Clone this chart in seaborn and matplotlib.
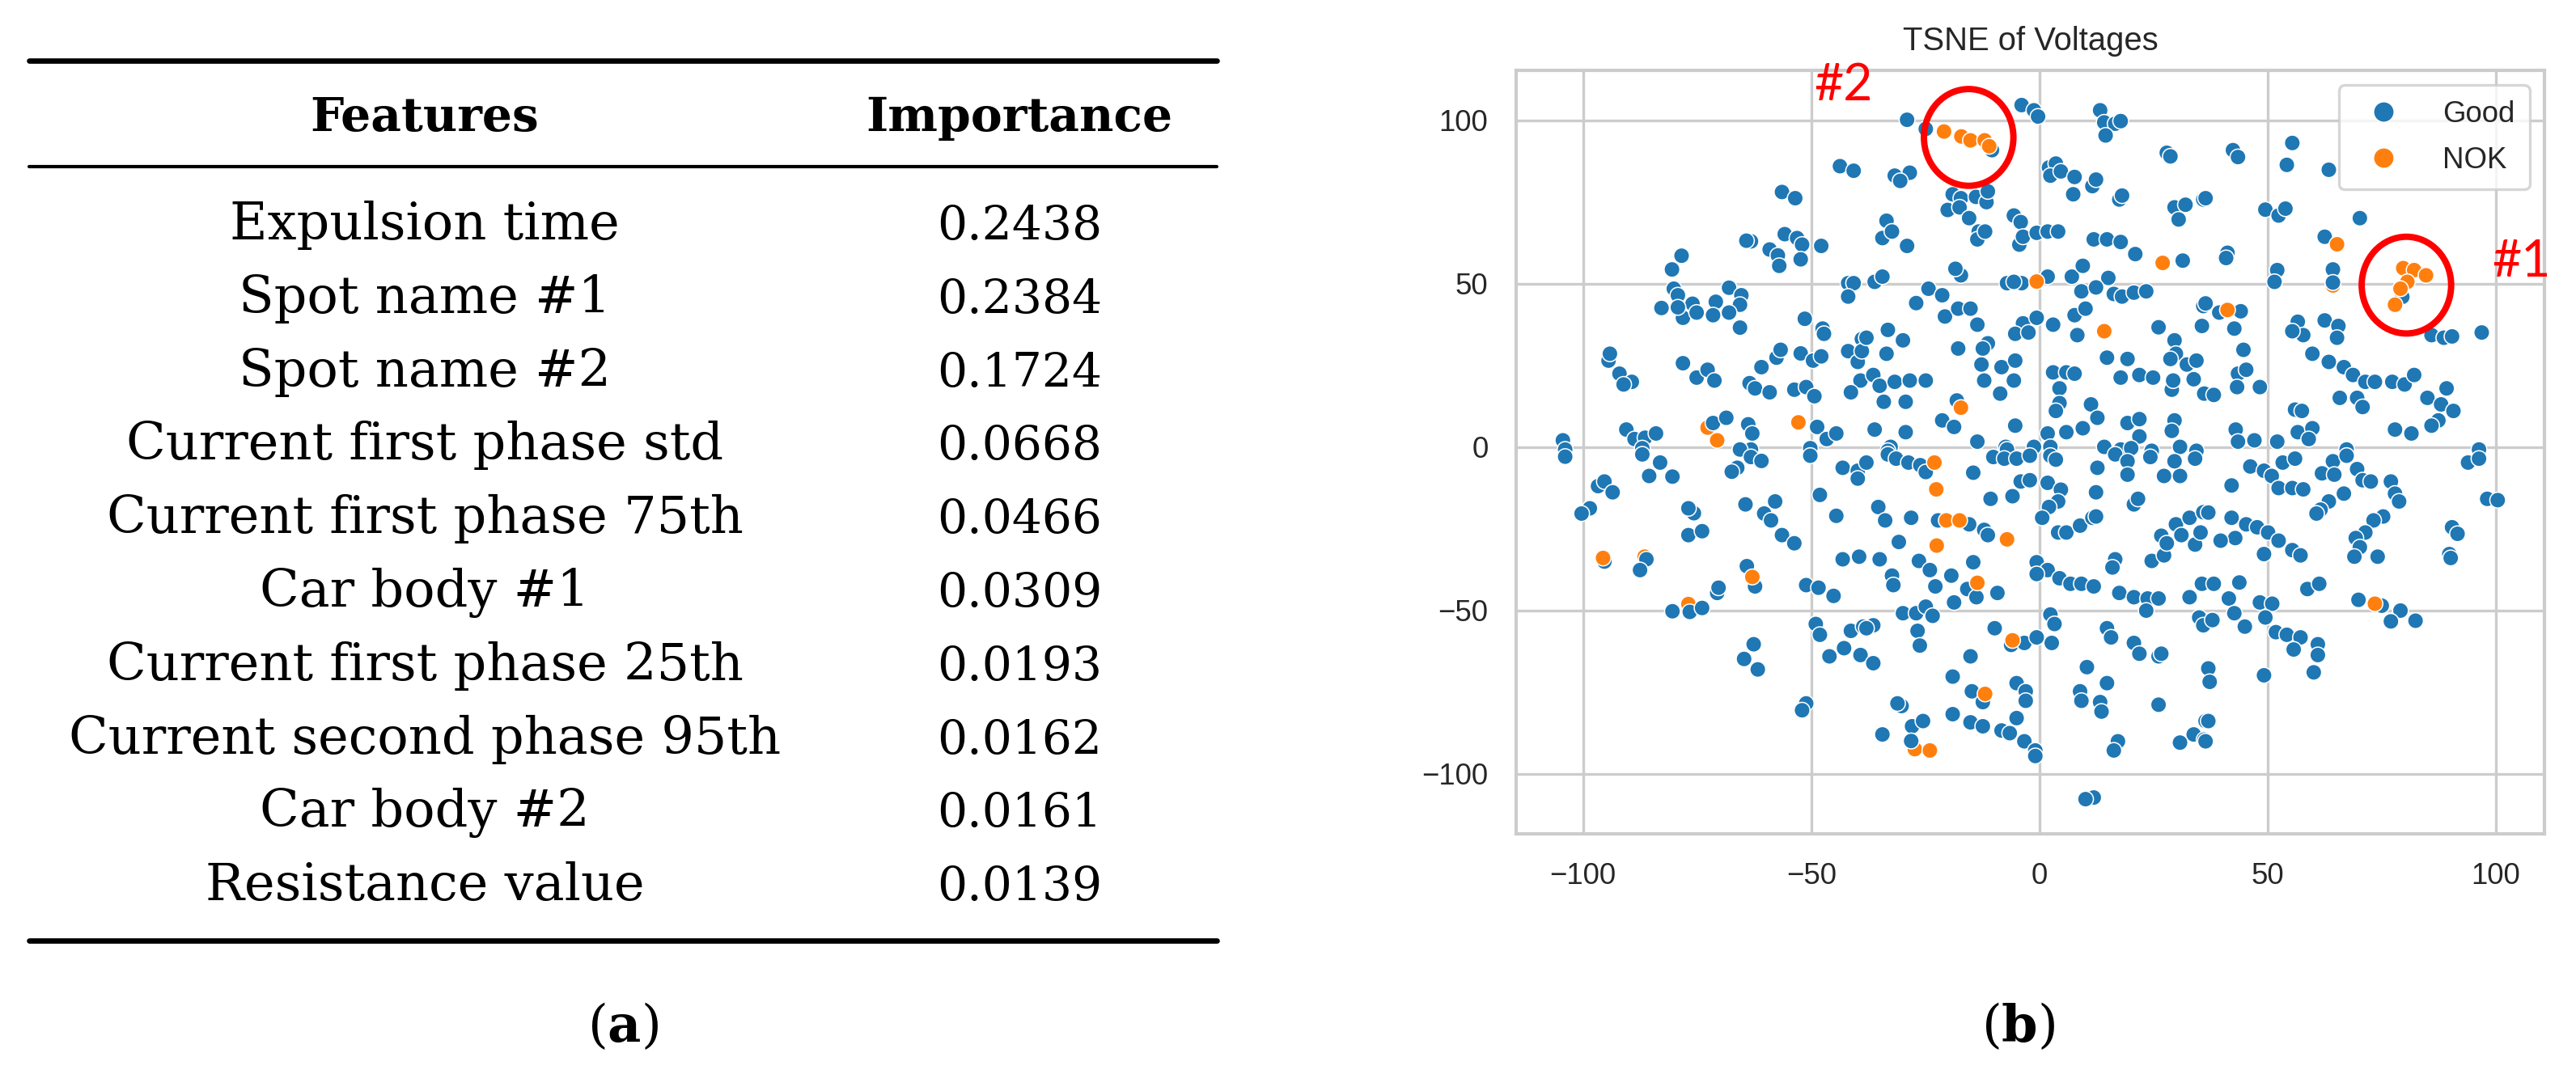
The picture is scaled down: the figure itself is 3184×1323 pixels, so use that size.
import numpy as np
import pandas as pd
import matplotlib
matplotlib.use("Agg")
import matplotlib.pyplot as plt
import seaborn as sns
from matplotlib.patches import Ellipse
from matplotlib.lines import Line2D

# ---------------- table data ----------------
features = ["Expulsion time", "Spot name #1", "Spot name #2", "Current first phase std",
            "Current first phase 75th", "Car body #1", "Current first phase 25th",
            "Current second phase 95th", "Car body #2", "Resistance value"]
importance = ["0.2438", "0.2384", "0.1724", "0.0668", "0.0466", "0.0309",
              "0.0193", "0.0162", "0.0161", "0.0139"]
headers = ["Features", "Importance"]

# ---------------- scatter data ----------------
good_pts = [
    (-43.7,86.0),(-40.7,84.6),(-56.4,78.1),(-53.5,76.2),(-63.2,63.0),(-64.2,63.2),(-55.8,65.2),(-53.1,64.0),
    (-52.0,62.0),(-47.8,61.6),(-59.1,60.5),(-57.3,58.7),(-57.0,55.5),(-52.3,57.5),(-78.4,58.6),(-80.5,54.4),
    (-41.9,50.2),(-40.7,50.2),(-41.9,46.1),(-80.1,48.5),(-79.2,46.5),(-82.8,42.6),(-76.0,43.9),(-78.1,39.6),
    (-75.1,41.2),(-79.2,42.8),(-70.9,44.5),(-71.5,40.4),(-68.0,48.8),(-65.3,46.5),(-65.6,43.6),(-68.0,41.2),
    (-65.6,36.6),(-51.4,39.3),(-47.5,36.3),(-47.2,34.7),(-38.9,33.1),(-94.4,26.5),(-94.1,28.6),(-92.0,22.5),
    (-89.3,20.0),(-91.1,19.2),(-78.1,25.7),(-75.1,21.3),(-72.7,23.7),(-71.2,20.4),(-57.6,27.4),(-56.7,29.8),
    (-60.9,24.5),(-63.5,19.6),(-62.3,18.0),(-59.1,16.8),(-52.3,28.7),(-49.6,26.5),(-47.8,27.8),(-53.7,17.6),
    (-51.1,18.4),(-49.3,15.6),(-41.9,29.4),(-39.8,26.1),(-39.2,20.4),(-41.3,16.8),(-38.9,29.4),(-71.5,7.4),
    (-68.6,9.0),(-63.8,7.0),(-62.9,4.2),(-48.7,6.2),(-46.6,2.5),(-44.5,4.2),(-90.5,5.4),(-88.7,2.5),
    (-86.4,2.9),(-84.0,4.2),(-87.0,-0.3),(-104.4,2.1),(-103.9,-0.7),(-50.2,-0.3),(-63.2,-0.7),(-65.6,-0.7),
    (-29.0,100.2),(-24.9,97.4),(-10.4,90.9),(-3.9,104.7),(-1.2,103.1),(-0.3,101.2),(13.3,103.1),(14.2,99.4),
    (16.6,99.0),(14.5,95.4),(17.8,99.8),(27.9,90.1),(28.7,89.0),(-31.7,83.1),(-28.4,84.0),(-30.5,81.5),
    (-19.0,77.4),(-17.2,76.2),(-13.9,76.6),(-11.6,75.0),(-11.3,78.3),(-20.1,72.6),(-17.5,73.4),(-15.4,70.1),
    (-13.3,66.0),(-13.6,63.6),(-11.9,66.0),(-33.5,69.3),(-34.4,64.0),(-32.3,66.0),(-29.0,61.6),(-5.6,70.9),
    (-4.1,68.9),(-4.4,62.0),(-3.6,64.4),(-0.6,65.6),(1.8,66.0),(4.1,66.0),(2.1,85.6),(3.6,86.8),
    (2.4,83.1),(4.7,84.4),(7.7,82.7),(7.4,77.4),(11.6,79.9),(12.4,81.9),(17.5,75.8),(18.1,77.0),
    (29.6,73.4),(30.5,69.7),(32.0,74.2),(35.9,75.8),(11.9,63.6),(14.8,63.6),(17.8,62.8),(21.0,59.1),
    (31.4,57.1),(-17.2,52.6),(-18.4,54.6),(-36.1,50.6),(-34.4,52.2),(-7.1,50.2),(-3.9,50.2),(-5.6,50.6),
    (1.8,52.2),(7.1,52.2),(9.5,55.5),(15.1,51.8),(9.2,47.7),(12.4,48.9),(16.3,46.9),(18.1,46.1),
    (20.7,47.3),(23.4,47.7),(35.9,43.2),(35.6,37.1),(-24.3,48.5),(-21.3,46.5),(-27.0,44.1),(-20.7,40.0),
    (-17.8,42.4),(-15.1,42.4),(-13.6,37.5),(-11.3,31.8),(-12.4,30.2),(7.7,40.4),(10.1,42.4),(8.3,34.3),
    (-3.6,37.9),(-0.6,39.6),(3.0,37.5),(-5.3,34.7),(-2.4,35.1),(26.1,36.7),(29.6,32.7),(29.9,28.6),
    (32.3,25.3),(34.4,26.5),(28.7,27.0),(-33.2,35.9),(-29.9,32.7),(-33.5,28.6),(-37.9,33.5),(-17.8,30.2),
    (-12.7,25.3),(-8.3,24.5),(-5.3,26.5),(-12.1,20.4),(-5.6,20.4),(-8.6,16.4),(3.0,22.9),(5.9,22.9),
    (7.7,22.5),(4.4,18.0),(4.4,13.5),(3.6,11.1),(14.8,27.4),(19.3,27.0),(17.8,21.3),(21.9,22.1),
    (24.9,21.3),(29.0,17.6),(29.3,20.4),(33.8,20.8),(36.1,16.4),(-36.4,22.1),(-35.0,18.8),(-31.7,20.0),
    (-28.4,20.4),(-24.9,20.4),(-34.1,13.9),(-29.3,13.9),(-18.1,14.3),(-21.3,8.2),(-18.7,6.2),(-36.1,5.4),
    (-29.3,4.6),(-32.6,0.1),(-13.6,1.7),(-5.3,6.6),(-7.4,0.1),(1.8,4.2),(5.9,4.6),(2.4,0.1),
    (11.3,13.1),(12.7,9.0),(9.5,5.8),(19.3,7.4),(21.9,8.6),(21.9,3.3),(29.6,8.2),(29.0,5.0),
    (14.2,0.1),(17.8,-0.7),(20.1,-0.3),(24.6,-1.1),(30.8,0.1),(34.4,-1.1),(-33.2,-1.1),(-7.1,-0.7),
    (-1.2,0.1),
    (42.4,90.9),(43.5,88.8),(55.4,93.1),(54.2,86.4),(63.4,84.9),(36.4,76.2),(49.5,72.7),(52.4,70.9),
    (53.9,73.0),(70.2,70.1),(62.5,64.4),(64.3,54.4),(64.3,50.4),(41.2,59.5),(40.9,57.9),(52.1,54.2),
    (51.5,50.6),(79.5,46.0),(36.4,44.0),(39.4,41.2),(44.1,41.6),(42.7,36.3),(56.6,38.4),(57.8,34.3),
    (62.5,38.8),(65.5,37.1),(65.2,33.5),(55.4,35.5),(85.9,34.3),(88.6,33.5),(90.4,33.9),(96.9,35.1),
    (44.7,29.8),(59.8,28.6),(63.4,26.1),(66.7,24.5),(68.7,22.1),(71.4,20.0),(73.5,20.0),(77.3,20.0),
    (80.0,19.2),(82.1,22.1),(43.5,22.5),(45.3,23.7),(43.3,18.4),(48.3,18.4),(38.2,16.0),(65.8,15.1),
    (69.6,15.1),(70.8,12.3),(85.0,15.1),(89.2,18.0),(88.0,13.1),(90.7,11.1),(87.4,8.2),(85.9,6.6),
    (77.9,5.4),(81.5,4.2),(56.0,11.5),(57.5,11.1),(43.0,5.4),(43.5,1.7),(47.1,2.1),(52.1,1.7),
    (56.6,4.6),(59.8,5.8),(59.0,2.5),(67.3,-0.7),(96.3,-0.7),
    (-103.9,-2.9),(-87.0,-2.2),(-83.1,-4.7),(-85.5,-8.8),(-80.4,-9.0),(-66.2,-6.3),(-63.2,-3.0),(-60.9,-4.2),
    (-67.4,-7.5),(-50.2,-2.6),(-43.1,-6.3),(-39.8,-7.2),(-39.8,-9.6),(-96.7,-11.9),(-95.3,-10.5),(-93.5,-13.8),
    (-98.5,-18.7),(-100.3,-20.3),(-75.7,-20.2),(-76.9,-18.7),(-76.9,-26.9),(-73.9,-25.7),(-64.4,-17.5),(-57.9,-16.6),
    (-60.3,-20.3),(-58.8,-22.4),(-56.4,-26.9),(-53.7,-29.4),(-48.1,-14.6),(-44.5,-21.0),(-95.3,-35.0),(-86.1,-34.3),
    (-87.5,-37.6),(-43.1,-34.3),(-39.5,-33.5),(-64.1,-36.4),(-62.3,-42.6),(-51.1,-42.2),(-48.4,-43.0),(-45.1,-45.5),
    (-80.4,-50.2),(-76.6,-50.4),(-73.9,-49.2),(-70.6,-44.6),(-70.3,-43.0),(-49.0,-54.1),(-48.1,-57.4),(-46.0,-64.0),
    (-42.8,-61.5),(-41.3,-56.2),(-39.2,-63.6),(-38.6,-54.9),(-62.6,-60.3),(-64.7,-64.8),(-61.7,-68.0),(-51.1,-78.4),
    (-52.0,-80.5),
    (-37.9,-4.7),(-33.2,-2.2),(-31.4,-3.5),(-28.7,-4.7),(-26.1,-5.5),(-24.9,-7.6),(-14.5,-7.8),(-10.1,-3.0),
    (-7.7,-3.5),(-5.0,-3.5),(-2.1,-2.6),(2.4,-2.6),(3.6,-3.8),(-10.7,-15.8),(-5.9,-15.0),(-4.1,-10.5),
    (-2.1,-10.1),(1.8,-10.9),(4.7,-13.0),(4.1,-16.6),(2.1,-18.3),(0.6,-21.6),(12.7,-6.3),(12.4,-13.8),
    (16.6,-2.2),(19.3,-4.3),(19.3,-8.4),(24.3,-3.0),(27.3,-8.8),(30.8,-8.8),(34.1,-3.5),(29.6,-4.3),
    (20.7,-17.5),(21.6,-15.8),(4.1,-26.1),(5.9,-26.1),(8.9,-24.0),(11.6,-21.6),(12.4,-21.2),(-35.3,-18.3),
    (-33.8,-22.4),(-28.1,-21.6),(-30.8,-29.0),(-22.2,-22.4),(-15.4,-23.6),(-12.1,-25.3),(-11.3,-26.9),(-35.0,-34.3),
    (-32.3,-39.3),(-32.0,-42.2),(-26.4,-34.8),(-24.0,-37.6),(-22.8,-42.6),(-19.3,-39.3),(-14.5,-35.2),(-18.7,-47.5),
    (-15.8,-43.4),(-13.8,-45.9),(-9.2,-44.6),(-29.9,-50.8),(-27.0,-50.8),(-24.9,-48.8),(-23.4,-51.6),(-36.4,-54.5),
    (-37.9,-55.4),(-26.7,-56.2),(-26.2,-60.7),(-36.4,-66.1),(-0.6,-35.2),(1.8,-37.6),(-0.6,-38.8),(4.4,-40.1),
    (6.8,-41.8),(9.2,-41.8),(11.9,-42.6),(16.6,-34.3),(16.0,-36.8),(17.5,-44.6),(20.7,-45.9),(23.7,-46.3),
    (26.1,-46.3),(23.4,-50.0),(24.6,-34.8),(27.3,-33.1),(26.7,-27.1),(27.9,-29.4),(29.9,-23.6),(32.9,-21.6),
    (31.1,-26.9),(34.1,-29.8),(35.9,-19.9),(35.3,-26.1),(32.9,-45.9),(35.6,-41.8),(35.0,-52.1),(35.9,-54.5),
    (-9.8,-55.4),(-6.2,-60.5),(-3.3,-59.9),(-0.6,-58.2),(2.4,-51.2),(3.3,-54.1),(2.7,-59.9),(-15.1,-64.0),
    (-19.0,-70.2),(-14.8,-74.7),(-12.4,-78.0),(-5.0,-72.2),(-3.0,-74.7),(-3.0,-77.6),(14.8,-55.4),(15.7,-58.2),
    (20.7,-59.9),(21.9,-63.2),(26.1,-64.0),(26.7,-63.2),(10.4,-67.3),(8.9,-74.7),(9.2,-77.6),(14.8,-72.2),
    (13.3,-78.0),(13.6,-80.9),(26.1,-78.8),(33.8,-87.9),(30.8,-90.4),(36.1,-89.5),(36.4,-83.8),(17.2,-90.0),
    (16.3,-92.8),(-30.2,-79.2),(-31.1,-78.4),(-34.4,-87.9),(-27.9,-85.4),(-25.5,-83.8),(-28.1,-89.9),(-19.0,-81.7),
    (-15.1,-84.2),(-12.4,-85.4),(-8.3,-86.7),(-5.0,-82.9),(-6.5,-87.5),(-3.3,-90.0),(-0.9,-92.8),(-0.9,-94.5),
    (11.9,-107.2),(10.1,-107.7),
    (46.2,-5.9),(49.2,-7.2),(50.9,-8.8),(53.3,-4.7),(56.0,-3.5),(64.3,-4.3),(67.3,-2.6),(69.6,-6.7),
    (70.8,-10.1),(72.6,-10.5),(61.9,-8.0),(64.6,-8.4),(42.1,-11.7),(52.4,-12.5),(55.4,-12.5),(57.8,-12.9),
    (77.0,-10.5),(77.9,-14.2),(78.8,-16.6),(93.9,-4.7),(96.3,-3.5),(98.1,-15.8),(100.4,-16.2),(66.7,-14.2),
    (63.4,-16.6),(61.6,-19.1),(60.7,-20.3),(75.3,-21.2),(73.2,-22.4),(71.4,-26.1),(69.3,-27.8),(70.2,-30.6),
    (69.0,-33.5),(74.1,-33.5),(90.4,-24.5),(91.6,-26.5),(89.8,-32.7),(90.1,-33.9),(42.1,-21.6),(45.3,-23.6),
    (47.7,-24.5),(50.1,-26.1),(52.4,-28.6),(55.4,-31.5),(57.2,-33.1),(42.9,-27.8),(39.7,-28.6),(49.2,-32.7),
    (37.0,-20.0),(58.7,-43.4),(61.3,-41.8),(38.2,-41.8),(43.8,-41.4),(41.5,-46.3),(42.7,-50.8),(45.0,-54.9),
    (48.3,-47.5),(51.0,-47.9),(49.5,-52.1),(37.9,-52.9),(51.8,-56.6),(54.2,-57.4),(57.2,-58.2),(55.7,-61.9),
    (61.0,-60.3),(61.0,-63.6),(60.1,-68.9),(49.2,-69.8),(37.0,-67.7),(37.3,-71.8),(69.9,-46.7),(75.0,-48.5),
    (79.1,-50.0),(77.0,-53.3),(82.4,-53.1),(37.0,-83.8),(36.4,-90.0),
]
nok_behind_pts = [(-72.7,6.0),(-86.5,-33.5),(64.3,49.5),(-76.9,-48.0),(-27.3,-92.4)]
nok_pts = [
    (-20.9,96.6),(-17.1,95.1),(-15.1,93.9),(-12.0,93.9),(-11.0,92.1),
    (79.7,54.8),(82.1,54.2),(84.7,52.6),(80.6,50.6),(79.1,48.5),(77.9,43.6),
    (65.2,62.1),(27.0,56.4),(-0.6,50.7),(14.2,35.5),(41.2,42.0),(-17.2,12.1),(-52.8,7.6),
    (-70.6,2.1),(-23.0,-4.7),(-22.6,-12.9),(-20.4,-22.4),(-17.5,-22.4),(-7.1,-28.2),(-22.5,-30.1),
    (-13.6,-41.5),(-5.9,-59.1),(-11.9,-75.5),(-24.0,-92.8),(73.5,-47.9),(-95.6,-33.9),(-62.9,-39.7),
]
class_names = ["Good", "NOK"]
class_colors = ["#1f77b4", "#ff7f0e"]

rows = ([(x, y, "NOK") for x, y in nok_behind_pts] +
        [(x, y, "Good") for x, y in good_pts] +
        [(x, y, "NOK") for x, y in nok_pts])
df = pd.DataFrame(rows, columns=["x", "y", "label"])

# ---------------- styling ----------------
sns.set_theme(style="whitegrid", context="paper")
plt.rcParams["font.family"] = ["Liberation Sans", "DejaVu Sans"]
plt.rcParams["mathtext.fontset"] = "dejavuserif"

W, H, DPI = 3184, 1323, 300
fig = plt.figure(figsize=(W / DPI, H / DPI), dpi=DPI)

def fx(px):
    return px / W

def fy(py):
    return 1 - py / H

# ---------------- table (a) ----------------
serif = "DejaVu Serif"
ink = "black"
fig.add_artist(Line2D([fx(36), fx(1504)], [fy(75), fy(75)], color=ink, lw=1.6))
fig.add_artist(Line2D([fx(36), fx(1504)], [fy(206), fy(206)], color=ink, lw=1.0))
fig.add_artist(Line2D([fx(36), fx(1504)], [fy(1163), fy(1163)], color=ink, lw=1.6))
col_x = [525, 1260]
for cx, h in zip(col_x, headers):
    fig.text(fx(cx), fy(162), h, ha="center", va="baseline", family=serif,
             weight="bold", fontsize=14.0, color=ink)
for i, (f, v) in enumerate(zip(features, importance)):
    yb = 296 + 90.8 * i
    fig.text(fx(col_x[0]), fy(yb), f, ha="center", va="baseline", family=serif,
             fontsize=15.3, color=ink)
    fig.text(fx(col_x[1]), fy(yb), v, ha="center", va="baseline", family=serif,
             fontsize=14.0, color=ink)
fig.text(fx(770), fy(1270), r"($\mathbf{a}$)", ha="center", va="center", family=serif,
         fontsize=15.3, color=ink)
fig.text(fx(2495), fy(1270), r"($\mathbf{b}$)", ha="center", va="center", family=serif,
         fontsize=15.3, color=ink)

# ---------------- scatter (b) ----------------
ax = fig.add_axes([fx(1874), fy(1031), (3145 - 1874) / W, (1031 - 87) / H])
sns.scatterplot(data=df, x="x", y="y", hue="label", hue_order=class_names,
                palette=class_colors, s=22, ax=ax)
ax.set_xlabel("")
ax.set_ylabel("")
ax.set_title("TSNE of Voltages")
ax.set_xticks([-100, -50, 0, 50, 100])
ax.set_yticks([-100, -50, 0, 50, 100])
for sp in ax.spines.values():
    sp.set_visible(True)
handles, labels = ax.get_legend_handles_labels()
ax.legend(handles, labels, loc="upper right", markerscale=1.3, labelspacing=0.6,
          borderpad=0.5, handletextpad=1.0)

# red annotations
ax.add_patch(Ellipse((-15.5, 94.8), 19.6, 29.6, fill=False, edgecolor="#ff0000", lw=1.9, clip_on=False))
ax.add_patch(Ellipse((80.4, 49.6), 19.6, 29.6, fill=False, edgecolor="#ff0000", lw=1.9, clip_on=False))
ax.text(-43.0, 106.2, "#2", color="#ff0000", family="Lato", fontsize=15, ha="center",
        va="baseline", clip_on=False)
ax.text(105.6, 52.1, "#1", color="#ff0000", family="Lato", fontsize=15, ha="center",
        va="baseline", clip_on=False)

fig.savefig("out.png", dpi=DPI)
